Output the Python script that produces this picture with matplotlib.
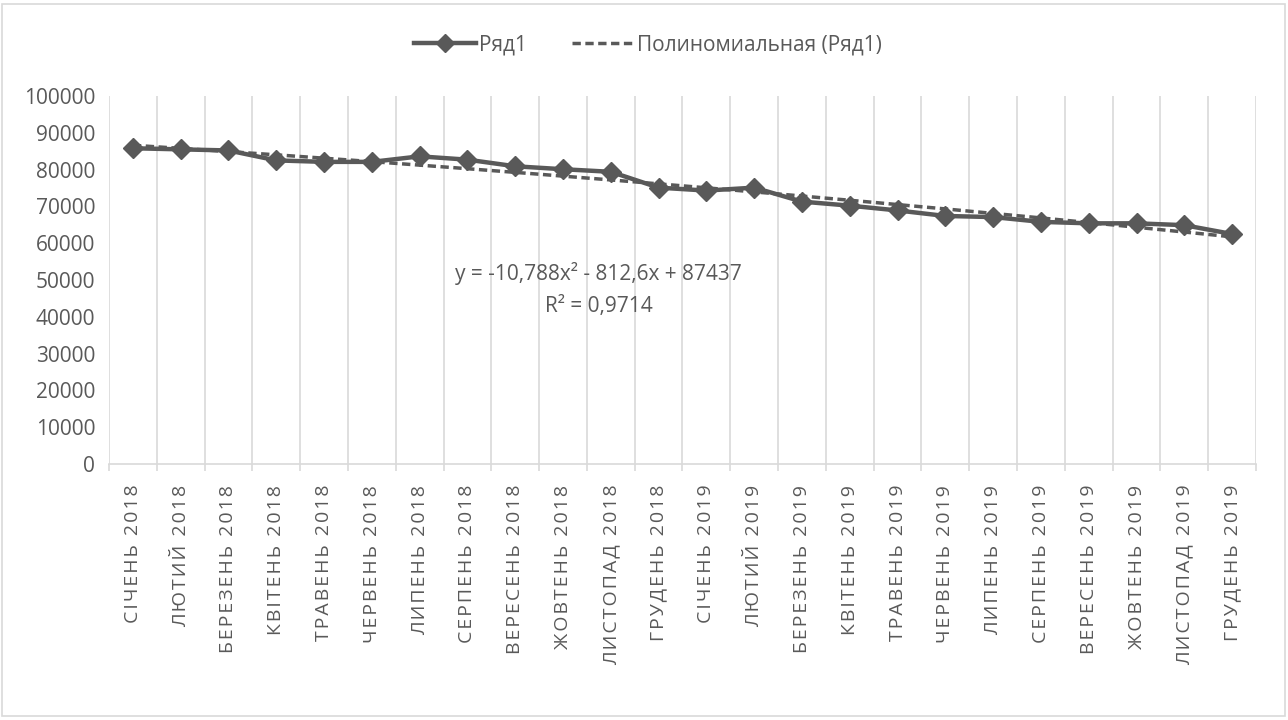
import matplotlib.pyplot as plt
import numpy as np
from matplotlib.lines import Line2D
from matplotlib.patches import Rectangle

plt.rcParams["font.family"] = ["Open Sans", "DejaVu Sans"]

MONTHS = [
    "СІЧЕНЬ", "ЛЮТИЙ", "БЕРЕЗЕНЬ", "КВІТЕНЬ", "ТРАВЕНЬ", "ЧЕРВЕНЬ",
    "ЛИПЕНЬ", "СЕРПЕНЬ", "ВЕРЕСЕНЬ", "ЖОВТЕНЬ", "ЛИСТОПАД", "ГРУДЕНЬ",
]
YEARS = ["2018", "2019"]
SERIES_NAME = "Ряд1"
TREND_NAME = "Полиномиальная (Ряд1)"

values = [
    85800, 85500, 85200, 82500, 82100, 82100,
    83600, 82700, 80900, 80100, 79400, 75100,
    74300, 75100, 71300, 70200, 68900, 67400,
    67100, 65800, 65400, 65400, 64900, 62500,
]

# trend y = a*x^2 + b*x + c, x = 1..24
trend_a = -10.788
trend_b = -812.6
trend_c = 87437
trend_r2 = 0.9714

GREY = "#595959"
GRID = "#d9d9d9"
FS = 14.5


def spaced(s):
    return "\u200a".join(s)


labels = [spaced(f"{m} {y}") for y in YEARS for m in MONTHS]
x = np.arange(1, len(values) + 1)

fig = plt.figure(figsize=(12.88, 7.2), dpi=100)
fig.patches.append(
    Rectangle((2 / 1288, 4 / 720), 1283 / 1288, 712 / 720,
              transform=fig.transFigure, fill=False, edgecolor=GRID, lw=1.2)
)
ax = fig.add_axes([109 / 1288, 1 - 464 / 720, 1147 / 1288, 368 / 720])

ax.plot(x, values, color=GREY, lw=3.2, marker="D", markersize=10,
        markerfacecolor=GREY, markeredgecolor=GREY, zorder=3)

xt = np.linspace(1, len(values), 200)
yt = trend_a * xt ** 2 + trend_b * xt + trend_c
ax.plot(xt, yt, color=GREY, lw=2.5, linestyle=(0, (2.4, 1.3)), zorder=2)

ax.set_xlim(0.5, len(values) + 0.5)
ax.set_ylim(0, 100000)
ax.set_yticks(np.arange(0, 100001, 10000))
ax.set_xticks(x)
ax.set_xticklabels(labels, rotation=90, fontsize=FS - 0.5, color=GREY)
ax.tick_params(axis="x", length=0, pad=15)
ax.tick_params(axis="y", length=0, pad=10, labelsize=FS + 0.5, labelcolor=GREY)

for b in np.arange(0.5, len(values) + 1, 1.0):
    ax.axvline(b, color=GRID, lw=1.2, zorder=1)
ax.set_xticks(np.arange(0.5, len(values) + 1, 1.0), minor=True)
ax.tick_params(axis="x", which="minor", length=5, color=GRID, width=1.2)

for side in ["top", "right", "left"]:
    ax.spines[side].set_visible(False)
ax.spines["bottom"].set_color(GRID)
ax.spines["bottom"].set_linewidth(1.2)

eq = (f"y = {trend_a:.3f}x² - {abs(trend_b):.1f}x + {trend_c}".replace(".", ",")
      + "\n" + f"R² = {trend_r2:.4f}".replace(".", ","))
ax.text(10.75, 55000, eq, ha="center", va="top", fontsize=FS + 0.5,
        color=GREY, linespacing=1.7)

handles = [
    Line2D([0], [0], color=GREY, lw=3.2, marker="D", markersize=9,
           markerfacecolor=GREY, markeredgecolor=GREY),
    Line2D([0], [0], color=GREY, lw=2.5, linestyle=(0, (2.4, 1.3))),
]
fig.legend(handles, [SERIES_NAME, TREND_NAME], loc="center",
           bbox_to_anchor=(0.503, 1 - 45 / 720), ncol=2, frameon=False,
           fontsize=FS + 0.5, labelcolor=GREY, handlelength=3.0,
           columnspacing=2.2, handletextpad=0.1)

fig.savefig("out.png", dpi=100)
